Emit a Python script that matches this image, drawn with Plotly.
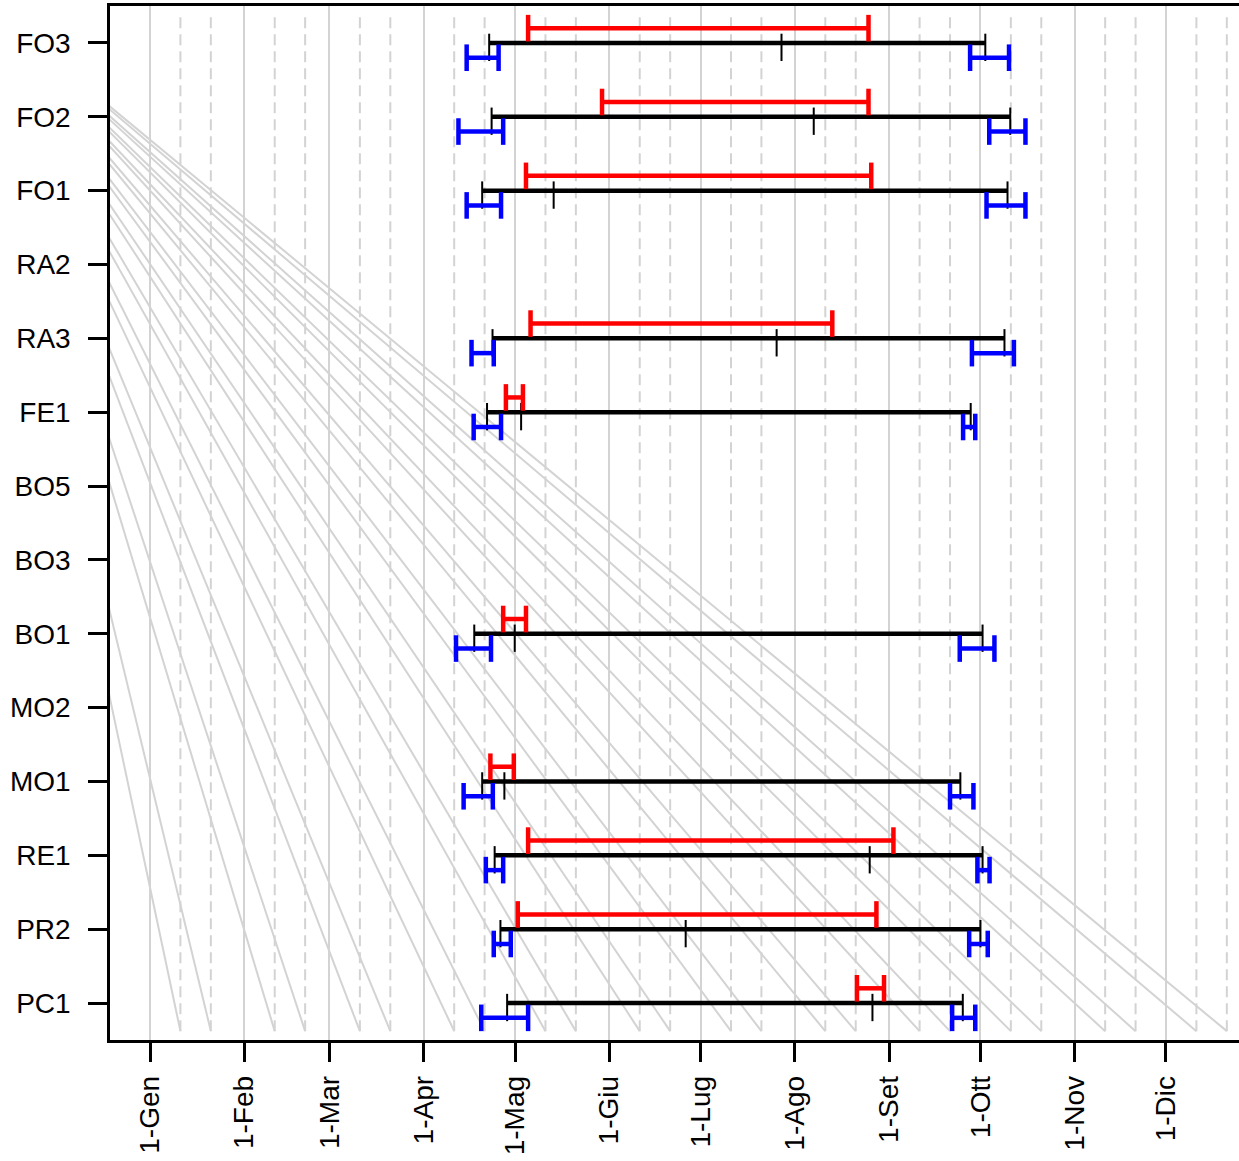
import plotly.graph_objects as go

# ---------------- data (x values are days since 1 January) ----------------
sites = ["FO3", "FO2", "FO1", "RA2", "RA3", "FE1", "BO5", "BO3",
         "BO1", "MO2", "MO1", "RE1", "PR2", "PC1"]

season_start = [111.5, 112.3, 109.2, None, 112.6, 110.8, None, None, 106.6, None, 109.2, 113.3, 115.2, 117.4]
season_end   = [274.6, 282.8, 281.9, None, 280.9, 269.8, None, None, 273.7, None, 266.4, 273.7, 273.0, 267.2]
season_mid   = [207.6, 218.2, 132.7, None, 206.0, 122.0, None, None, 119.9, None, 116.5, 236.6, 176.1, 237.5]

red_lo = [124.3, 148.6, 123.6, None, 125.1, 117.0, None, None, 116.1, None, 111.9, 124.3, 120.9, 232.4]
red_hi = [236.2, 236.2, 237.1, None, 224.3, 122.6, None, None, 123.6, None, 119.6, 244.4, 238.8, 241.3]

blue_start_lo = [104.1, 101.4, 104.1, None, 105.7, 106.4, None, None, 100.6, None, 103.1, 110.4, 113.0, 108.9]
blue_start_hi = [114.6, 116.1, 115.4, None, 113.0, 115.4, None, None, 112.1, None, 112.7, 116.1, 118.6, 124.3]
blue_end_lo   = [269.6, 275.9, 275.0, None, 270.2, 267.3, None, None, 266.2, None, 263.0, 272.0, 269.3, 263.7]
blue_end_hi   = [282.4, 287.8, 287.8, None, 284.0, 271.3, None, None, 277.6, None, 270.7, 276.0, 275.4, 271.3]

month_days = [0, 31, 59, 90, 120, 151, 181, 212, 243, 273, 304, 334]
month_labels = ["1-Gen", "1-Feb", "1-Mar", "1-Apr", "1-Mag", "1-Giu",
                "1-Lug", "1-Ago", "1-Set", "1-Ott", "1-Nov", "1-Dic"]
dekad_days = [10, 20, 41, 51, 69, 79, 100, 110, 130, 140, 161, 171,
              191, 201, 222, 232, 253, 263, 283, 293, 314, 324, 344, 354]

# fan of guide lines: common origin (outside the plot) to each dekad day
fan_origin_day = -63.1
fan_origin_y = 14.84
guide_bottom = 0.62
guide_top = 14.42

# ---------------- styling constants ----------------
GREY = "#D3D3D3"
RED = "#FF0000"
BLUE = "#0000FF"
FONT = "Liberation Sans, Arial, sans-serif"
OFF = 0.2       # vertical offset of red / blue bars
CAP = 0.18      # half height of caps
TICK_UP = 0.125
TICK_DN = 0.245

n = len(sites)
ypos = [n - i for i in range(n)]

fig = go.Figure()

# dashed dekad lines
xs, ys = [], []
for d in dekad_days:
    xs += [d, d, None]
    ys += [guide_bottom, guide_top, None]
fig.add_trace(go.Scatter(x=xs, y=ys, mode="lines",
                         line=dict(color=GREY, width=2, dash="11px,6px"),
                         hoverinfo="skip"))

# fan lines
xs, ys = [], []
for d in dekad_days:
    xs += [fan_origin_day, d, None]
    ys += [fan_origin_y, guide_bottom, None]
fig.add_trace(go.Scatter(x=xs, y=ys, mode="lines",
                         line=dict(color=GREY, width=2),
                         hoverinfo="skip"))

# black season lines and thin ticks
bx, by, tx, ty = [], [], [], []
for i in range(n):
    if season_start[i] is None:
        continue
    y = ypos[i]
    bx += [season_start[i], season_end[i], None]
    by += [y, y, None]
    for v in (season_start[i], season_mid[i], season_end[i]):
        tx += [v, v, None]
        ty += [y + TICK_UP, y - TICK_DN, None]
fig.add_trace(go.Scatter(x=bx, y=by, mode="lines",
                         line=dict(color="black", width=4.5), hoverinfo="skip"))
fig.add_trace(go.Scatter(x=tx, y=ty, mode="lines",
                         line=dict(color="black", width=2), hoverinfo="skip"))


def capped(lo, hi, yc):
    return ([lo, hi, None, lo, lo, None, hi, hi, None],
            [yc, yc, None, yc - CAP, yc + CAP, None, yc - CAP, yc + CAP, None])


rx, ry, ux, uy = [], [], [], []
for i in range(n):
    if red_lo[i] is None:
        continue
    y = ypos[i]
    a, b = capped(red_lo[i], red_hi[i], y + OFF)
    rx += a; ry += b
    a, b = capped(blue_start_lo[i], blue_start_hi[i], y - OFF)
    ux += a; uy += b
    a, b = capped(blue_end_lo[i], blue_end_hi[i], y - OFF)
    ux += a; uy += b
fig.add_trace(go.Scatter(x=rx, y=ry, mode="lines",
                         line=dict(color=RED, width=4.5), hoverinfo="skip"))
fig.add_trace(go.Scatter(x=ux, y=uy, mode="lines",
                         line=dict(color=BLUE, width=4.5), hoverinfo="skip"))

fig.update_layout(
    width=1239, height=1161,
    margin=dict(l=110, r=0, t=6, b=121),
    plot_bgcolor="white", paper_bgcolor="white",
    showlegend=False,
    font=dict(family=FONT, size=28, color="black"),
    xaxis=dict(range=[-13.15, 358.0], tickmode="array", tickvals=month_days,
               ticktext=month_labels, tickangle=-90, ticks="outside",
               ticklen=19, tickwidth=2.5, tickcolor="black",
               showline=True, linewidth=2.5, linecolor="black", mirror=True,
               showgrid=True, gridcolor=GREY, gridwidth=2, zeroline=False,
               tickfont=dict(family=FONT, size=28, color="black"),
               ticklabelstandoff=3, automargin=False),
    yaxis=dict(range=[0.5, 14.5], tickmode="array", tickvals=ypos,
               ticktext=sites, ticks="outside", ticklen=19, tickwidth=2.5,
               tickcolor="black", showline=True, linewidth=2.5,
               linecolor="black", showgrid=False, zeroline=False,
               tickfont=dict(family=FONT, size=28, color="black"),
               ticklabelstandoff=12, automargin=False),
)

fig.write_html(
    "out.html",
    config={"displayModeBar": False},
    post_script="document.body.style.margin='0';document.body.style.overflow='hidden';",
)
